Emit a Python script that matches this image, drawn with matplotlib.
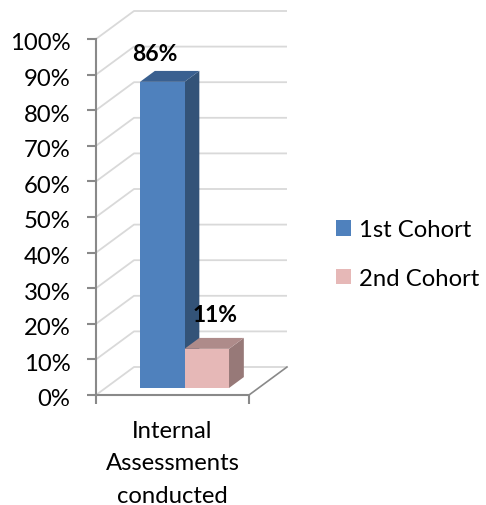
import matplotlib
matplotlib.use('Agg')
import matplotlib.pyplot as plt
from matplotlib.patches import Patch, Polygon
from matplotlib.transforms import ScaledTranslation

category = 'Internal\nAssessments\nconducted'
series_names = ['1st Cohort', '2nd Cohort']
values = [86, 11]
value_labels = ['86%', '11%']
ticks = list(range(0, 101, 10))
tick_labels = [f'{t}%' for t in ticks]

W, H = 486, 506
FS = 17.2
plt.rcParams['font.family'] = ['Lato', 'DejaVu Sans']

# front plane of the 3d box, in pixels
left, right, top, bottom = 96, 249, 40, 396
y_unit = (bottom - top) / 100.0  # px per percent
x_unit = float(right - left)

# depth of the box expressed in axis units
depth_x = 38 / x_unit
depth_y = 28 / y_unit

fig = plt.figure(figsize=(W / 100, H / 100), dpi=100)
ax = fig.add_axes([left / W, 1 - bottom / H, (right - left) / W, (bottom - top) / H])
ax.set_xlim(0, 1)
ax.set_ylim(0, 100)
ax.patch.set_visible(False)

grid_col = '#d9d9d9'
axis_col = '#898989'

# back wall grid and side wall lines
for t in ticks:
    ax.plot([0, depth_x, 1 + depth_x], [t, t + depth_y, t + depth_y],
            color=grid_col, lw=1.3, clip_on=False, zorder=1, solid_capstyle='butt')
# floor right edge
ax.plot([1, 1 + depth_x], [0, depth_y], color=axis_col, lw=1.2, clip_on=False, zorder=1)


def bar3d(x0, w, h, face, topc, side, z0, dz):
    # z0, dz are fractions of the box depth
    ox, oy = depth_x * z0, depth_y * z0
    dx, dy = depth_x * dz, depth_y * dz
    x = x0 + ox
    base = oy
    ax.add_patch(Polygon([(x + w, base), (x + w + dx, base + dy), (x + w + dx, h + dy), (x + w, h)],
                         fc=side, ec='none', clip_on=False, zorder=3))
    ax.add_patch(Polygon([(x, h), (x + dx, h + dy), (x + w + dx, h + dy), (x + w, h)],
                         fc=topc, ec='none', clip_on=False, zorder=3))
    ax.add_patch(Polygon([(x, base), (x + w, base), (x + w, h), (x, h)],
                         fc=face, ec='none', clip_on=False, zorder=4))


bar_w = 44.5 / x_unit
bar_x0 = 33 / x_unit
z_front = 0.25
fronts = ['#4f81bd', '#e6b8b7']
tops = ['#3a6090', '#ae8b8a']
sides = ['#335378', '#977978']
lift = depth_y * z_front  # bars stand on the floor, the value is measured from their base
bar_x0 += depth_x * 0.04
for i, v in enumerate(values):
    bar3d(bar_x0 + i * bar_w, bar_w, v + lift, fronts[i], tops[i], sides[i], z_front, 0.39)

# value labels, offsets in pixels from the top centre of the bar front
label_off = [(-7, 28), (8, 34)]
for i, v in enumerate(values):
    ax.annotate(value_labels[i], (bar_x0 + i * bar_w + bar_w / 2 + depth_x * z_front, v + lift),
                xytext=label_off[i], textcoords='offset pixels', ha='center', va='center',
                fontsize=FS - 0.7, fontweight='bold', color='black', zorder=6,
                annotation_clip=False)

# axes
for s in ['top', 'right']:
    ax.spines[s].set_visible(False)
for s in ['left', 'bottom']:
    ax.spines[s].set_color(axis_col)
    ax.spines[s].set_linewidth(1.5)
ax.set_yticks(ticks)
ax.set_yticklabels(tick_labels, fontsize=FS, va='center_baseline')
ax.tick_params(axis='y', length=6.5, width=1.5, color=axis_col, pad=12)
# tick text sits a little below the tick marks in the reference
shift = ScaledTranslation(0, -2 / 100, fig.dpi_scale_trans)
for lab in ax.get_yticklabels():
    lab.set_transform(lab.get_transform() + shift)
ax.set_xticks([0, 1])
ax.set_xticklabels(['', ''])
ax.tick_params(axis='x', length=6.5, width=1.5, color=axis_col)
ax.text(0.5, -0.07, category, transform=ax.transAxes, ha='center', va='top',
        fontsize=FS, linespacing=1.68)

handles = [Patch(fc=fronts[i], ec='none', label=series_names[i]) for i in range(2)]
fig.legend(handles=handles, loc='center left', bbox_to_anchor=(317 / W, 1 - 255 / H),
           frameon=False, fontsize=FS, handlelength=0.62, handleheight=0.62,
           handletextpad=0.33, labelspacing=1.15, borderpad=0.3)

fig.savefig('out.png', dpi=100)
